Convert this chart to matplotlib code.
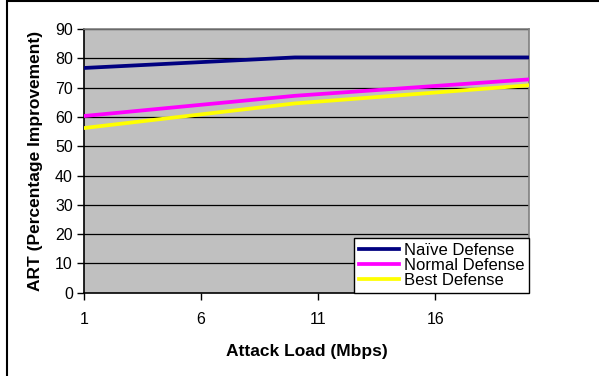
import matplotlib
matplotlib.use("Agg")
import matplotlib.pyplot as plt
from matplotlib.patches import Rectangle

plt.rcParams["font.family"] = ["Liberation Sans", "DejaVu Sans"]

# attack load (Mbps) and ART improvement (%) per defense
load = [1, 10, 20]
naive = [76.7, 80.3, 80.3]
normal = [60.3, 67.2, 72.8]
best = [56.2, 64.6, 70.8]

series_names = ["Naïve Defense", "Normal Defense", "Best Defense"]
x_ticks = [1, 6, 11, 16]
y_ticks = list(range(0, 91, 10))

fig = plt.figure(figsize=(5.99, 3.76), dpi=100)
ax = fig.add_axes([84 / 599, 1 - 292.7 / 376, 445 / 599, 263.7 / 376])
ax.set_facecolor("#C0C0C0")

for y in y_ticks[1:]:
    ax.axhline(y, color="black", lw=0.9, zorder=1)

ax.plot(load, naive, color="#000080", lw=2.7, label=series_names[0], zorder=3)
ax.plot(load, normal, color="#FF00FF", lw=2.7, label=series_names[1], zorder=3)
ax.plot(load, best, color="#FFFF00", lw=2.7, label=series_names[2], zorder=3)

ax.set_xlim(1, 20)
ax.set_ylim(0, 90)
ax.set_xticks(x_ticks)
ax.set_yticks(y_ticks)
ax.tick_params(axis="both", labelsize=11.5, direction="out", length=5, width=1, colors="black")
ax.tick_params(axis="x", pad=9)
ax.tick_params(axis="y", pad=3)

for side in ["top", "right"]:
    ax.spines[side].set_color("#808080")
    ax.spines[side].set_linewidth(1.2)
for side in ["left", "bottom"]:
    ax.spines[side].set_color("black")
    ax.spines[side].set_linewidth(1.2)

ax.set_xlabel("Attack Load (Mbps)", fontsize=12.5, fontweight="bold", labelpad=12)
ax.set_ylabel("ART (Percentage Improvement)", fontsize=12.5, fontweight="bold", labelpad=9)

leg = ax.legend(loc="lower right", bbox_to_anchor=(1.0, 0.0), borderaxespad=0,
                fontsize=12, frameon=True, fancybox=False, handlelength=2.35,
                handletextpad=0.3, labelspacing=0.0, borderpad=0.3)
leg.get_frame().set_edgecolor("black")
leg.get_frame().set_linewidth(1.0)
leg.get_frame().set_facecolor("white")
leg.get_frame().set_alpha(1)

# outer chart border (only left and top edges visible in the crop)
fig.patches.append(Rectangle((6.5 / 599, -0.1), 1.2, 1 - 0.7 / 376 + 0.1,
                             transform=fig.transFigure, fill=False,
                             edgecolor="black", lw=1.5))

fig.savefig("out.png", dpi=100)
